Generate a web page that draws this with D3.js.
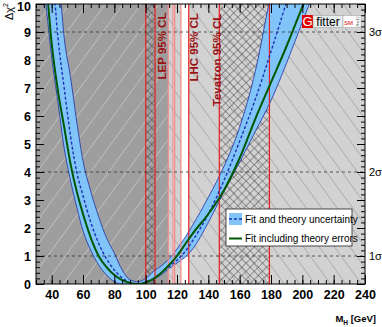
<!DOCTYPE html>
<html>
<head>
<meta charset="utf-8">
<script src="https://cdn.jsdelivr.net/npm/d3@7"></script>
<style>
body { margin: 0; background: #fff; }
text { font-family: "Liberation Sans Narrow", "Liberation Sans", Arial, sans-serif; }
</style>
</head>
<body>
<script>
const measurements = {
    width: 382,
    height: 327
}

// axis ticks and labels
const xTicks = [40, 60, 80, 100, 120, 140, 160, 180, 200, 220, 240]
const yTicks = [0, 1, 2, 3, 4, 5, 6, 7, 8, 9, 10]
const sigmaLevels = [1, 4, 9]
const sigmaLabels = ['1σ', '2σ', '3σ']

// excluded mass ranges in GeV
const lepExcluded = [[30, 114.4]]
const lhcExcluded = [[114.4, 117.5], [118.5, 122.5], [127.5, 240]]
const tevatronExcluded = [[100, 106], [147, 179]]
const strongLines = [100, 106, 127.5, 147, 179]
const faintLines = [114.4, 117.5, 118.5, 122.5]

// delta chi2 scans vs Higgs mass
const mass = [32, 36, 40, 44, 48, 52, 56, 60, 65, 70, 75, 80, 85, 90, 95, 100, 105, 110, 115, 120, 125, 130, 140, 150, 160, 170, 180, 190, 200, 210]
const bandLow = [12.5, 10.2, 8.1, 6.5, 4.85, 3.7, 2.75, 1.9, 1.2, 0.68, 0.32, 0.08, 0, 0, 0, 0.05, 0.15, 0.33, 0.55, 0.75, 0.95, 1.25, 2.2, 3.3, 4.35, 5.45, 6.55, 7.9, 9.35, 10.8]
const bandHigh = [20, 17, 14, 11.5, 8.8, 7.4, 5.8, 4.4, 3.3, 2.4, 1.65, 1.1, 0.5, 0.15, 0.08, 0.2, 0.45, 0.65, 0.9, 1.25, 1.65, 2.1, 3.1, 4.2, 5.6, 7.6, 10.4, 13, 16, 19]
const fitCentral = [17, 14, 11.6, 8.8, 7.0, 5.3, 4.0, 3.15, 2.2, 1.45, 0.9, 0.5, 0.22, 0.05, 0, 0.08, 0.2, 0.4, 0.62, 0.85, 1.15, 1.55, 2.5, 3.7, 5.1, 6.6, 8.3, 10.1, 12, 14]
const fitTheory = [14, 11.2, 8.6, 6.9, 5.6, 4.3, 3.3, 2.5, 1.65, 1.0, 0.6, 0.32, 0.14, 0.04, 0, 0.05, 0.18, 0.4, 0.68, 1.0, 1.4, 1.8, 2.5, 3.35, 4.5, 5.9, 7.2, 8.5, 9.9, 11.3]

const plot = { left: 36, right: 365, top: 4, bottom: 284 }

const x = d3.scaleLinear().domain([30, 240]).range([plot.left, plot.right])
const y = d3.scaleLinear().domain([0, 10]).range([plot.bottom, plot.top])

const svg = d3.select("body").append('svg')
    .attr('width', measurements.width)
    .attr('height', measurements.height)

const defs = svg.append('defs')

defs.append('clipPath').attr('id', 'plotClip')
    .append('rect')
    .attr('x', plot.left).attr('y', plot.top)
    .attr('width', plot.right - plot.left).attr('height', plot.bottom - plot.top)

// hatch patterns
function hatch(id, angle, size, color, width, cross) {
    const p = defs.append('pattern')
        .attr('id', id)
        .attr('patternUnits', 'userSpaceOnUse')
        .attr('width', size).attr('height', size)
        .attr('patternTransform', `rotate(${angle})`)
    p.append('line').attr('x1', 0).attr('y1', 0).attr('x2', 0).attr('y2', size)
        .attr('stroke', color).attr('stroke-width', width)
    if (cross) {
        p.append('line').attr('x1', 0).attr('y1', 0).attr('x2', size).attr('y2', 0)
            .attr('stroke', color).attr('stroke-width', width)
    }
}
hatch('hatchLep', 36, 14.5, 'rgba(255,255,255,0.6)', 1, false)
hatch('hatchLhc', -36, 12.5, '#808080', 0.8, false)
hatch('hatchTev', 45, 5.8, '#2a2a2a', 0.8, true)

const plotArea = svg.append('g').attr('clip-path', 'url(#plotClip)')

// white background, then exclusion regions
plotArea.append('rect')
    .attr('x', plot.left).attr('y', plot.top)
    .attr('width', plot.right - plot.left).attr('height', plot.bottom - plot.top)
    .attr('fill', '#fff')

function regions(ranges, fill) {
    plotArea.append('g').selectAll('rect')
        .data(ranges)
        .enter()
        .append('rect')
        .attr('x', d => x(d[0]))
        .attr('width', d => x(d[1]) - x(d[0]))
        .attr('y', y(10))
        .attr('height', y(0) - y(10))
        .attr('fill', fill)
}
regions(lepExcluded, '#9e9e9e')
regions(lepExcluded, 'url(#hatchLep)')
regions(lhcExcluded, '#d2d2d2')
regions(lhcExcluded, 'url(#hatchLhc)')
regions(tevatronExcluded, 'url(#hatchTev)')

// theory band
const band = d3.area()
    .x(i => x(mass[i]))
    .y0(i => y(bandLow[i]))
    .y1(i => y(bandHigh[i]))
    .curve(d3.curveMonotoneX)

const idx = d3.range(mass.length)

plotArea.append('path')
    .attr('d', band(idx))
    .attr('fill', '#80c4fa')

const edge = arr => d3.line()
    .x(i => x(mass[i]))
    .y(i => y(arr[i]))
    .curve(d3.curveMonotoneX)(idx)

plotArea.append('path').attr('d', edge(bandLow))
    .attr('fill', 'none').attr('stroke', '#1f2f9f').attr('stroke-width', 0.8)
plotArea.append('path').attr('d', edge(bandHigh))
    .attr('fill', 'none').attr('stroke', '#1f2f9f').attr('stroke-width', 0.8)

// limit lines
plotArea.append('g').selectAll('line')
    .data(faintLines)
    .enter()
    .append('line')
    .attr('x1', d => x(d)).attr('x2', d => x(d))
    .attr('y1', y(0)).attr('y2', y(10))
    .attr('stroke', '#f08a8a').attr('stroke-width', 1.2)

plotArea.append('g').selectAll('line')
    .data(strongLines)
    .enter()
    .append('line')
    .attr('x1', d => x(d)).attr('x2', d => x(d))
    .attr('y1', y(0)).attr('y2', y(10))
    .attr('stroke', '#e82020').attr('stroke-width', 1.2)

// sigma lines
plotArea.append('g').selectAll('line')
    .data(sigmaLevels)
    .enter()
    .append('line')
    .attr('x1', plot.left).attr('x2', plot.right)
    .attr('y1', d => y(d)).attr('y2', d => y(d))
    .attr('stroke', '#333').attr('stroke-width', 0.8)
    .attr('stroke-dasharray', '3,3')

// fit curves
plotArea.append('path').attr('d', edge(fitCentral))
    .attr('fill', 'none').attr('stroke', '#1e32b4').attr('stroke-width', 1.4)
    .attr('stroke-dasharray', '3,2')
plotArea.append('path').attr('d', edge(fitTheory))
    .attr('fill', 'none').attr('stroke', '#005800').attr('stroke-width', 2)

// experiment labels
const labels = [
    { text: 'LEP 95% CL', m: 110.3, v: 8.5 },
    { text: 'LHC 95% CL', m: 130.9, v: 8.45 },
    { text: 'Tevatron 95% CL', m: 145.3, v: 8.0 }
]
svg.append('g').selectAll('text')
    .data(labels)
    .enter()
    .append('text')
    .attr('transform', d => `translate(${x(d.m) + 4},${y(d.v)}) rotate(-90)`)
    .attr('text-anchor', 'middle')
    .attr('font-family', '"Liberation Sans", Arial, sans-serif')
    .attr('font-weight', 'bold')
    .attr('font-size', 11.5)
    .attr('fill', '#9a1010')
    .text(d => d.text)

// axes with inward ticks
function axis(gen, tx, ty, values, size, labelled) {
    const g = svg.append('g')
        .attr('transform', `translate(${tx},${ty})`)
        .call(gen.tickValues(values).tickSize(size).tickPadding(labelled ? 5 : 0)
            .tickFormat(labelled ? d3.format('d') : ''))
    g.select('.domain').remove()
    g.selectAll('line').attr('stroke', '#000')
    g.selectAll('text')
        .attr('font-family', '"Liberation Sans Narrow", Arial, sans-serif')
        .attr('font-weight', 'bold')
        .attr('font-size', 12.5)
        .attr('fill', '#000')
    return g
}
const xMinor = d3.range(30, 241, 5)
const yMinor = d3.range(0, 10.001, 0.2)

axis(d3.axisBottom(x), 0, plot.bottom, xTicks, -9, true).selectAll('text').attr('y', 6)
axis(d3.axisBottom(x), 0, plot.bottom, xMinor, -4, false)
axis(d3.axisTop(x), 0, plot.top, xTicks, -9, false)
axis(d3.axisTop(x), 0, plot.top, xMinor, -4, false)
axis(d3.axisLeft(y), plot.left, 0, yTicks, -8, true)
    .selectAll('text').attr('dy', d => d === 10 ? '0.5em' : '0.32em')
axis(d3.axisLeft(y), plot.left, 0, yMinor, -4, false)
axis(d3.axisRight(y), plot.right, 0, yTicks, -8, false)
axis(d3.axisRight(y), plot.right, 0, yMinor, -4, false)

// frame
svg.append('rect')
    .attr('x', plot.left).attr('y', plot.top)
    .attr('width', plot.right - plot.left).attr('height', plot.bottom - plot.top)
    .attr('fill', 'none').attr('stroke', '#000').attr('stroke-width', 1)

// sigma labels on the right
svg.append('g').selectAll('text')
    .data(sigmaLevels)
    .enter()
    .append('text')
    .attr('x', plot.right + 4)
    .attr('y', d => y(d))
    .attr('dy', '0.35em')
    .attr('font-size', 11)
    .text((d, i) => sigmaLabels[i])

// axis titles
const xTitle = svg.append('text')
    .attr('x', 376).attr('y', 322)
    .attr('text-anchor', 'end')
    .attr('font-weight', 'bold')
    .attr('font-size', 9.5)
xTitle.append('tspan').text('M')
xTitle.append('tspan').attr('font-size', 6.5).attr('dy', 2.5).text('H')
xTitle.append('tspan').attr('dy', -2.5).text(' [GeV]')

const yTitle = svg.append('text')
    .attr('transform', 'translate(13,3) rotate(-90)')
    .attr('text-anchor', 'end')
    .attr('font-family', '"DejaVu Sans", sans-serif')
    .attr('font-size', 11)
yTitle.append('tspan').text('Δχ')
yTitle.append('tspan').attr('font-size', 7).attr('dy', -5).text('2')

// legend
const legend = svg.append('g')
legend.append('rect')
    .attr('x', 226).attr('y', 209).attr('width', 126).attr('height', 37)
    .attr('fill', '#fff').attr('stroke', '#222').attr('stroke-width', 0.8)
legend.append('rect')
    .attr('x', 229).attr('y', 213).attr('width', 13).attr('height', 12)
    .attr('fill', '#80c4fa')
legend.append('line')
    .attr('x1', 229).attr('x2', 242).attr('y1', 219).attr('y2', 219)
    .attr('stroke', '#1e32b4').attr('stroke-width', 1.4).attr('stroke-dasharray', '3,2')
legend.append('line')
    .attr('x1', 229).attr('x2', 242).attr('y1', 238.5).attr('y2', 238.5)
    .attr('stroke', '#005800').attr('stroke-width', 2)
legend.selectAll('.lbl')
    .data(['Fit and theory uncertainty', 'Fit including theory errors'])
    .enter()
    .append('text')
    .attr('x', 245)
    .attr('y', (d, i) => 219 + i * 19.5)
    .attr('dy', '0.35em')
    .attr('font-size', 10)
    .text(d => d)

// Gfitter logo
const logo = svg.append('g')
logo.append('rect').attr('x', 302).attr('y', 15).attr('width', 11).attr('height', 13).attr('fill', '#e00000')
logo.append('text').attr('x', 307.5).attr('y', 26).attr('text-anchor', 'middle')
    .attr('fill', '#fff').attr('font-size', 13).text('G')
logo.append('rect').attr('x', 313).attr('y', 15.5).attr('width', 30).attr('height', 12)
    .attr('fill', '#e6eeee').attr('stroke', '#999').attr('stroke-width', 0.5)
logo.append('text').attr('x', 328).attr('y', 25.5).attr('text-anchor', 'middle')
    .attr('font-size', 12).text('fitter')
logo.append('rect').attr('x', 343).attr('y', 15.5).attr('width', 18).attr('height', 12)
    .attr('fill', '#fff').attr('stroke', '#999').attr('stroke-width', 0.5)
logo.append('text').attr('x', 348.5).attr('y', 25).attr('text-anchor', 'middle')
    .attr('font-size', 6).attr('fill', '#e00000').text('SM')
logo.append('text').attr('transform', 'translate(359,21.5) rotate(-90)').attr('text-anchor', 'middle')
    .attr('font-size', 3.5).attr('fill', '#555').text('Mar12')
</script>
</body>
</html>
